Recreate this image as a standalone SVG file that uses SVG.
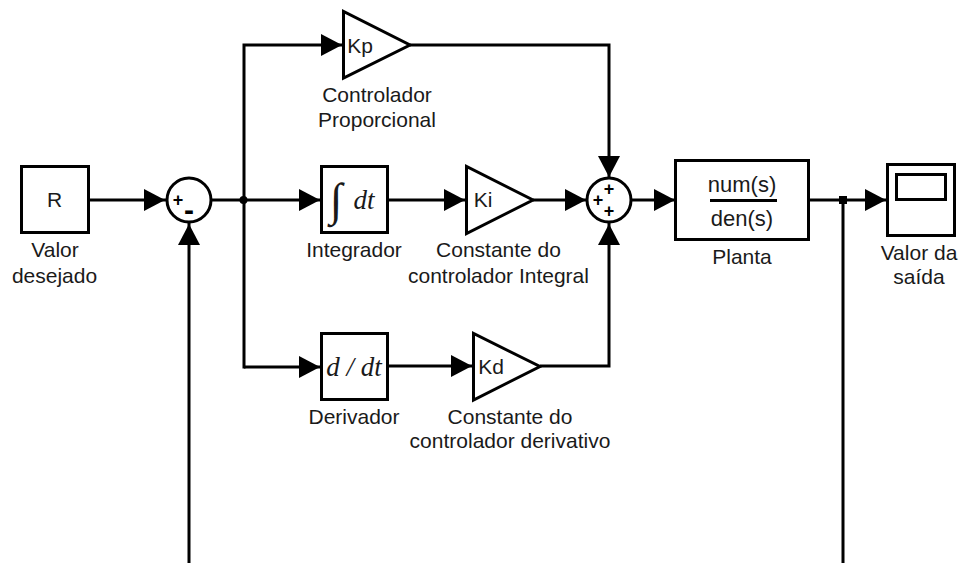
<svg xmlns="http://www.w3.org/2000/svg" width="960" height="563" viewBox="0 0 960 563">
<style>
.b{fill:#fff;stroke:#000;stroke-width:3}
.c{fill:none;stroke:#000;stroke-width:3}
.t{font-family:"Liberation Sans",Arial,sans-serif;font-size:21px;fill:#1a1a1a;text-anchor:middle}
.f{font-size:22px}
.m{font-family:"Liberation Serif","Times New Roman",serif;font-style:italic;font-size:27px;fill:#1a1a1a;text-anchor:middle}
.s{font-family:"Liberation Sans",Arial,sans-serif;font-size:18px;font-weight:bold;fill:#000;text-anchor:middle}
.a{fill:#000}
</style>
<defs>
<path id="ar" class="a" d="M-21-11V11L0 0Z"/>
</defs>
<rect width="960" height="563" fill="#fff"/>
<g id="connectors">
<path class="c" d="M89 200H168"/>
<path class="c" d="M211 200H321"/>
<path class="c" d="M244 368.500V45H343"/>
<path class="c" d="M244 367H321"/>
<path class="c" d="M387 200H466"/>
<path class="c" d="M533 200H588"/>
<path class="c" d="M387 366H473"/>
<path class="c" d="M410 45H609V178"/>
<path class="c" d="M540 366H609V222"/>
<path class="c" d="M630 200H676"/>
<path class="c" d="M809 200H887"/>
<path class="c" d="M843 200V563"/>
<path class="c" d="M189 563V222"/>
<circle class="a" cx="243.500" cy="200" r="4"/>
<rect class="a" x="839" y="196" width="8" height="8"/>
<use href="#ar" x="165" y="200"/>
<use href="#ar" x="320" y="200"/>
<use href="#ar" x="342" y="45"/>
<use href="#ar" x="320" y="367"/>
<use href="#ar" x="465" y="200"/>
<use href="#ar" x="472" y="366"/>
<use href="#ar" x="586" y="200"/>
<use href="#ar" x="675" y="200"/>
<use href="#ar" x="886" y="200"/>
<use href="#ar" transform="translate(609,177) rotate(90)"/>
<use href="#ar" transform="translate(609,224) rotate(-90)"/>
<use href="#ar" transform="translate(189,224) rotate(-90)"/>
</g>
<g id="r"><rect class="b" x="21.500" y="166.500" width="67" height="66"/><text class="t" x="54.500" y="207">R</text>
<text class="t" x="55" y="257">Valor</text><text class="t" x="54.500" y="283">desejado</text></g>
<g id="sum1"><circle class="b" cx="189" cy="200" r="22"/><text class="s" x="178" y="206">+</text><text class="s" x="189" y="220" style="font-size:30px">-</text></g>
<g id="kp"><path class="b" d="M343.500 11.500V78L410 45Z"/><text class="t" x="360" y="53">Kp</text>
<text class="t" x="377" y="102">Controlador</text><text class="t" x="377" y="127">Proporcional</text></g>
<g id="integrador"><rect class="b" x="321.500" y="166.500" width="66" height="66"/><text class="m" x="336" y="215" style="font-size:46px;font-style:normal">∫</text><text class="m" x="364" y="209">dt</text>
<text class="t" x="354" y="257">Integrador</text></g>
<g id="ki"><path class="b" d="M466.500 166.500V233.500L533 200Z"/><text class="t" x="483" y="207">Ki</text>
<text class="t" x="498.500" y="257">Constante do</text><text class="t" x="498.500" y="283">controlador Integral</text></g>
<g id="derivador"><rect class="b" x="321.500" y="333.500" width="66" height="66"/><text class="m" x="354" y="376">d / dt</text>
<text class="t" x="354" y="424">Derivador</text></g>
<g id="kd"><path class="b" d="M473.500 333.500V400L540 366.500Z"/><text class="t" x="491" y="374">Kd</text>
<text class="t" x="510" y="424">Constante do</text><text class="t" x="510" y="448">controlador derivativo</text></g>
<g id="sum2"><circle class="b" cx="609" cy="200" r="22"/><text class="s" x="609" y="195">+</text><text class="s" x="598" y="206">+</text><text class="s" x="609" y="217">+</text></g>
<g id="planta"><rect class="b" x="675.500" y="160.500" width="133" height="79"/><text class="t f" x="742" y="192">num(s)</text><path class="c" d="M710 200.500H777"/><text class="t f" x="742" y="226">den(s)</text>
<text class="t" x="742" y="264">Planta</text></g>
<g id="scope"><rect class="b" x="887.500" y="164.500" width="67" height="71"/><rect class="b" x="896.500" y="174.500" width="49" height="25"/>
<text class="t" x="919" y="260">Valor da</text><text class="t" x="919" y="284">saída</text></g>
</svg>
